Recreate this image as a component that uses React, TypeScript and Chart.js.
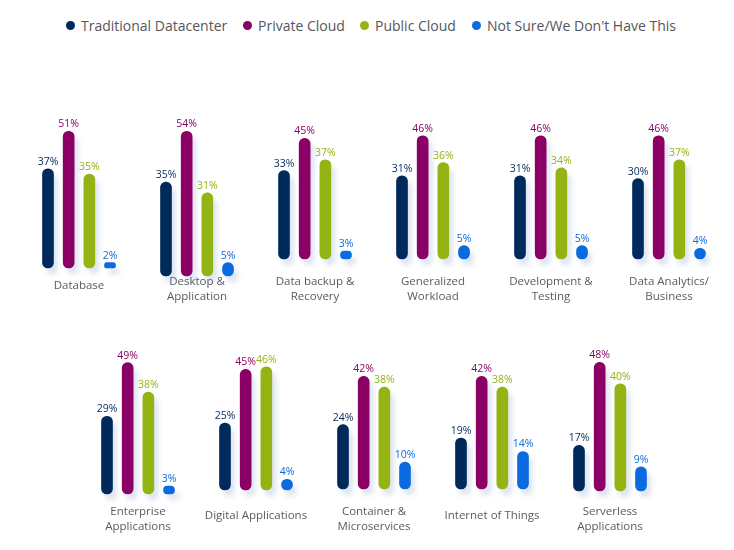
import React, { useEffect, useRef } from "react";
import { Chart, registerables } from "chart.js";

Chart.register(...registerables);

// ---- data ----
const categories: string[][] = [
  ["Database"],
  ["Desktop &", "Application"],
  ["Data backup &", "Recovery"],
  ["Generalized", "Workload"],
  ["Development &", "Testing"],
  ["Data Analytics/", "Business"],
  ["Enterprise", "Applications"],
  ["Digital Applications"],
  ["Container &", "Microservices"],
  ["Internet of Things"],
  ["Serverless", "Applications"],
];
const seriesNames = [
  "Traditional Datacenter",
  "Private Cloud",
  "Public Cloud",
  "Not Sure/We Don't Have This",
];
const traditional = [37, 35, 33, 31, 31, 30, 29, 25, 24, 19, 17];
const privateCloud = [51, 54, 45, 46, 46, 46, 49, 45, 42, 42, 48];
const publicCloud = [35, 31, 37, 36, 34, 37, 38, 46, 38, 38, 40];
const notSure = [2, 5, 3, 5, 5, 4, 3, 4, 10, 14, 9];
const series = [traditional, privateCloud, publicCloud, notSure];

// ---- styles / layout ----
const colors = ["#002a5c", "#8a0064", "#94b414", "#0a6ae0"];
const groupX = [47.5, 165.5, 283.5, 402, 519.5, 637.5, 106.5, 224.5, 342.5, 460.5, 578.5];
const groupBase = [268, 276, 259, 259, 259, 259, 494, 490, 489, 489, 491];
const groupRow = [0, 0, 0, 0, 0, 0, 1, 1, 1, 1, 1];
const rowLabelY = [286, 516];
const legendLeft = [66, 243, 360, 472];

const PX_PER = 2.68;
const PITCH = 20.67;
const YMAX = 60;
const CW = 140;
const CH = 250;
const PAD_B = 60;
const PAD_X = (CW - 4 * PITCH) / 2;
const PAD_T = CH - PAD_B - YMAX * PX_PER;
const FONT = "'Open Sans', 'Noto Sans', sans-serif";

function Group({ index }: { index: number }) {
  const ref = useRef<HTMLCanvasElement | null>(null);
  const left = groupX[index] - PITCH / 2 - PAD_X;
  const top = groupBase[index] - YMAX * PX_PER - PAD_T;

  useEffect(() => {
    if (!ref.current) return;
    const values = series.map((s) => s[index]);
    const lines = categories[index];
    const rowY = rowLabelY[groupRow[index]];
    const plugin = {
      id: "grp" + index,
      beforeDatasetsDraw(chart: any) {
        const ctx = chart.ctx;
        ctx.save();
        ctx.shadowColor = "rgba(70,110,180,0.18)";
        ctx.shadowOffsetX = 4;
        ctx.shadowOffsetY = 6;
        ctx.shadowBlur = 5;
      },
      afterDatasetsDraw(chart: any) {
        const ctx = chart.ctx;
        ctx.restore();
        ctx.save();
        const meta = chart.getDatasetMeta(0);
        ctx.font = "10.5px " + FONT;
        ctx.textAlign = "center";
        ctx.textBaseline = "alphabetic";
        meta.data.forEach((bar: any, j: number) => {
          ctx.fillStyle = colors[j];
          ctx.fillText(values[j] + "%", bar.x, bar.y - 4);
        });
        ctx.font = "11.5px " + FONT;
        ctx.fillStyle = "#5a5b62";
        ctx.textBaseline = "middle";
        const cx = (chart.chartArea.left + chart.chartArea.right) / 2;
        const startY = lines.length === 1 ? rowY : rowY - 4;
        lines.forEach((ln, k) => {
          ctx.fillText(ln, cx, startY + k * 15 - top);
        });
        ctx.restore();
      },
    };
    const chart = new Chart(ref.current, {
      type: "bar",
      data: {
        labels: seriesNames,
        datasets: [
          {
            data: values,
            backgroundColor: colors,
            barThickness: 11,
            borderSkipped: false,
            borderRadius: { topLeft: 6, topRight: 6, bottomLeft: 6, bottomRight: 6 },
            clip: false as any,
          },
        ],
      },
      options: {
        animation: false,
        responsive: false,
        devicePixelRatio: 1,
        events: [],
        layout: { padding: { left: PAD_X, right: PAD_X, top: PAD_T, bottom: PAD_B } },
        plugins: { legend: { display: false }, tooltip: { enabled: false } },
        scales: {
          x: { display: false },
          y: { display: false, min: 0, max: YMAX },
        },
      },
      plugins: [plugin],
    });
    return () => chart.destroy();
  }, [index]);

  return (
    <canvas
      ref={ref}
      width={CW}
      height={CH}
      style={{ position: "absolute", left, top, width: CW, height: CH }}
    />
  );
}

export default function App() {
  return (
    <div
      style={{
        position: "absolute",
        left: 0,
        top: 0,
        width: 734,
        height: 550,
        background: "#ffffff",
        overflow: "hidden",
      }}
    >
      {seriesNames.map((name, i) => (
        <div
          key={name}
          style={{
            position: "absolute",
            left: legendLeft[i],
            top: 14,
            height: 23,
            display: "flex",
            alignItems: "center",
            whiteSpace: "nowrap",
          }}
        >
          <span
            style={{
              display: "inline-block",
              width: 9,
              height: 9,
              borderRadius: "50%",
              background: colors[i],
              marginRight: 6,
            }}
          />
          <span style={{ fontFamily: FONT, fontSize: 14, color: "#55565c" }}>{name}</span>
        </div>
      ))}
      {categories.map((_, i) => (
        <Group key={i} index={i} />
      ))}
    </div>
  );
}
